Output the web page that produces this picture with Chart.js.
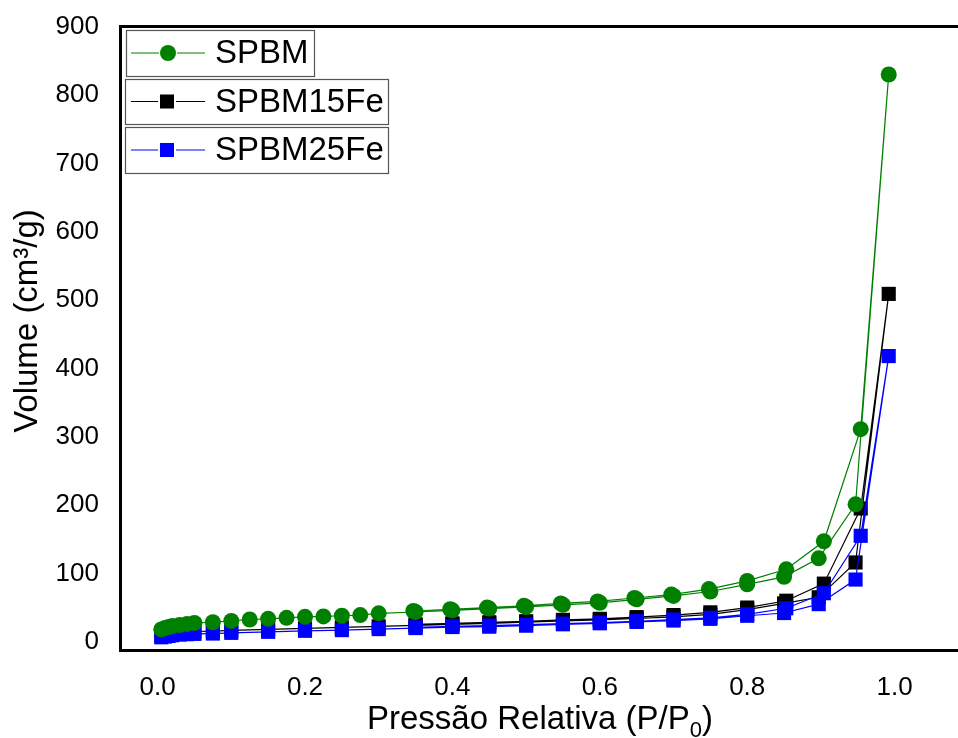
<!DOCTYPE html>
<html><head><meta charset="utf-8">
<script src="https://cdn.jsdelivr.net/npm/chart.js@4.4.0/dist/chart.umd.min.js"></script>
<style>html,body{margin:0;padding:0;background:#fff;overflow:hidden}</style>
</head><body>
<canvas id="c" width="958" height="738"></canvas>
<script>
// ---- data ----
const seriesNames = ['SPBM', 'SPBM15Fe', 'SPBM25Fe'];
const xTickValues = [0.0, 0.2, 0.4, 0.6, 0.8, 1.0];
const yTickValues = [0, 100, 200, 300, 400, 500, 600, 700, 800, 900];

// SPBM: adsorption then desorption (P/P0, volume cm3/g)
const spbmP = [0.005, 0.01, 0.015, 0.02, 0.03, 0.04, 0.05, 0.075, 0.1, 0.125, 0.15, 0.175, 0.2, 0.225, 0.25, 0.275, 0.3, 0.35, 0.4, 0.45, 0.5, 0.55, 0.6, 0.65, 0.7, 0.75, 0.8, 0.85, 0.897, 0.947, 0.992,
               0.954, 0.904, 0.853, 0.8, 0.748, 0.697, 0.647, 0.597, 0.547, 0.497, 0.447, 0.397, 0.347];
const spbmV = [18, 20, 21.5, 23, 24.5, 26, 27.5, 28.5, 30.5, 32.5, 33.5, 35, 36.5, 37, 38, 39, 41.5, 43.5, 46, 48.5, 51, 54, 57, 62, 67, 73.5, 84, 95, 122, 201, 830,
               311, 147, 106, 89, 77, 69, 64, 59, 56, 52.5, 50, 47.5, 45];

// SPBM15Fe
const spbm15P = [0.005, 0.01, 0.015, 0.02, 0.03, 0.04, 0.05, 0.075, 0.1, 0.15, 0.2, 0.25, 0.3, 0.35, 0.4, 0.45, 0.5, 0.55, 0.6, 0.65, 0.7, 0.75, 0.8, 0.85, 0.897, 0.947, 0.992,
                 0.954, 0.904, 0.853, 0.8, 0.75, 0.7, 0.65, 0.6, 0.55, 0.5, 0.45, 0.4, 0.35];
const spbm15V = [9, 10.5, 11.5, 12.5, 13.5, 14.5, 15, 15.5, 16.5, 18, 19.5, 21, 22.5, 24, 25.5, 27, 28.5, 30.5, 32, 34, 36.5, 40, 47, 56, 65, 116, 509,
                 195, 85, 60, 50, 43, 39, 36, 33.5, 32, 30, 28.5, 27, 25.5];

// SPBM25Fe
const spbm25P = [0.005, 0.01, 0.015, 0.02, 0.03, 0.04, 0.05, 0.075, 0.1, 0.15, 0.2, 0.25, 0.3, 0.35, 0.4, 0.45, 0.5, 0.55, 0.6, 0.65, 0.7, 0.75, 0.8, 0.85, 0.897, 0.947, 0.992,
                 0.954, 0.904, 0.853, 0.8, 0.75, 0.7, 0.65, 0.6, 0.55, 0.5, 0.45, 0.4, 0.35];
const spbm25V = [6.5, 7.5, 8.5, 9.5, 10.5, 11, 11.5, 12, 13, 14.5, 16, 17, 18.5, 20, 21.5, 22, 23.5, 25.5, 27, 29, 31, 33.5, 38, 42, 55, 91, 418,
                 155, 71, 49, 40, 35, 32.5, 30, 28, 26.5, 25, 23.5, 22.5, 21];

// ---- build ----
const FONT = '"Liberation Sans", Arial, sans-serif';
const toPts = (xs, ys) => xs.map((x, i) => ({ x: x, y: ys[i] }));

const datasets = [
  { label: seriesNames[0], data: toPts(spbmP, spbmV), borderColor: '#008000', backgroundColor: '#008000',
    pointStyle: 'circle', pointRadius: 8, order: 0 },
  { label: seriesNames[1], data: toPts(spbm15P, spbm15V), borderColor: '#000000', backgroundColor: '#000000',
    pointStyle: 'rect', pointRadius: 10, order: 2 },
  { label: seriesNames[2], data: toPts(spbm25P, spbm25V), borderColor: '#0000ff', backgroundColor: '#0000ff',
    pointStyle: 'rect', pointRadius: 10, order: 1 }
].map(d => Object.assign({ borderWidth: 1.2, pointBorderWidth: 0, pointHoverRadius: d.pointRadius, tension: 0, fill: false }, d));

const customDraw = {
  id: 'customDraw',
  afterDraw(chart) {
    const ctx = chart.ctx;
    ctx.save();
    ctx.fillStyle = '#000';
    // X axis title with subscript
    const big = '33px ' + FONT, small = '22px ' + FONT;
    const main = 'Pressão Relativa (P/P', sub = '0', close = ')';
    ctx.font = big; const wMain = ctx.measureText(main).width; const wClose = ctx.measureText(close).width;
    ctx.font = small; const wSub = ctx.measureText(sub).width;
    let x = 540 - (wMain + wSub + wClose) / 2;
    const base = 729;
    ctx.textAlign = 'left'; ctx.textBaseline = 'alphabetic';
    ctx.font = big; ctx.fillText(main, x, base); x += wMain;
    ctx.font = small; ctx.fillText(sub, x, base + 8); x += wSub;
    ctx.font = big; ctx.fillText(close, x, base);
    // Y axis title
    ctx.save();
    ctx.translate(37, 321);
    ctx.rotate(-Math.PI / 2);
    ctx.textAlign = 'center';
    ctx.font = big;
    ctx.fillText('Volume (cm³/g)', 0, 0);
    ctx.restore();
    // Legend: separate boxes
    const boxes = [
      { l: 126, t: 30, r: 314, b: 76 },
      { l: 125, t: 79, r: 388, b: 124 },
      { l: 125, t: 127, r: 388, b: 173 }
    ];
    chart.data.datasets.forEach((ds, i) => {
      const bx = boxes[i];
      ctx.fillStyle = '#fff';
      ctx.fillRect(bx.l, bx.t, bx.r - bx.l, bx.b - bx.t);
      ctx.strokeStyle = '#555';
      ctx.lineWidth = 1.2;
      ctx.strokeRect(bx.l + 0.5, bx.t + 0.5, bx.r - bx.l, bx.b - bx.t);
      const cy = (bx.t + bx.b) / 2;
      const mx = i === 0 ? 168 : 167;
      ctx.strokeStyle = ds.borderColor;
      ctx.lineWidth = 1.2;
      ctx.beginPath();
      ctx.moveTo(131, cy); ctx.lineTo(mx - 9, cy);
      ctx.moveTo(mx + 9, cy); ctx.lineTo(205, cy);
      ctx.stroke();
      ctx.fillStyle = ds.backgroundColor;
      if (ds.pointStyle === 'circle') {
        ctx.beginPath(); ctx.arc(mx, cy, 8, 0, Math.PI * 2); ctx.fill();
      } else {
        ctx.fillRect(mx - 7, cy - 7, 14, 14);
      }
      ctx.fillStyle = '#000';
      ctx.font = '33px ' + FONT;
      ctx.textAlign = 'left';
      ctx.textBaseline = 'middle';
      ctx.fillText(ds.label, 215, cy + 1);
    });
    ctx.restore();
  }
};

const tickFont = { family: FONT, size: 26 };
new Chart(document.getElementById('c'), {
  type: 'line',
  data: { datasets: datasets },
  options: {
    responsive: false,
    animation: false,
    devicePixelRatio: 1,
    layout: { autoPadding: false, padding: { left: 0, right: 0, top: 0, bottom: 0 } },
    plugins: { legend: { display: false }, tooltip: { enabled: false } },
    scales: {
      x: {
        type: 'linear', position: 'bottom', min: -0.051, max: 1.086,
        grid: { display: false, drawTicks: false },
        border: { display: true, color: '#000', width: 3 },
        ticks: { color: '#000', font: tickFont, padding: 22, maxRotation: 0, autoSkip: false,
                 callback: v => Number(v).toFixed(1) },
        afterBuildTicks: s => { s.ticks = xTickValues.map(v => ({ value: v })); },
        afterFit: s => { s.height = 88; }
      },
      xTop: {
        type: 'linear', position: 'top', min: -0.051, max: 1.086,
        grid: { display: false, drawTicks: false },
        border: { display: true, color: '#000', width: 3 },
        ticks: { display: false },
        afterFit: s => { s.height = 26; }
      },
      y: {
        type: 'linear', position: 'left', min: -12.1, max: 901,
        grid: { display: false, drawTicks: true, tickLength: 21 },
        border: { display: true, color: '#000', width: 3 },
        ticks: { color: '#000', font: tickFont, padding: 0 },
        afterBuildTicks: s => { s.ticks = yTickValues.map(v => ({ value: v })); },
        afterFit: s => { s.width = 120; }
      }
    }
  },
  plugins: [customDraw]
});
</script>
</body></html>
